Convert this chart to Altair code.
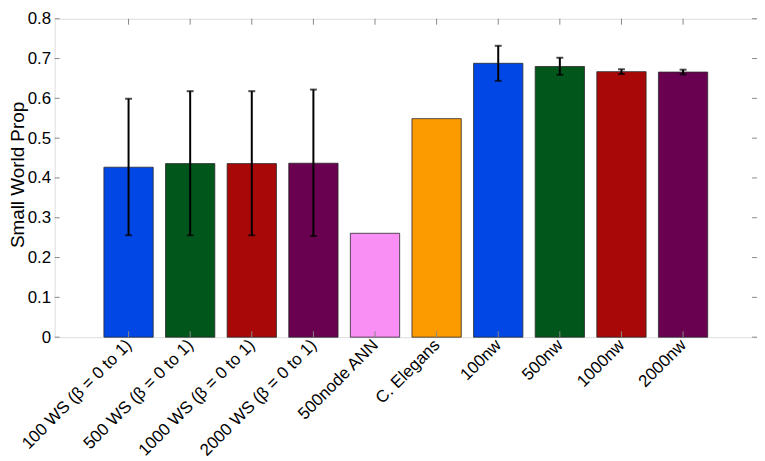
import altair as alt
import pandas as pd

categories = ["100 WS (β = 0 to 1)", "500 WS (β = 0 to 1)", "1000 WS (β = 0 to 1)",
              "2000 WS (β = 0 to 1)", "500node ANN", "C. Elegans",
              "100nw", "500nw", "1000nw", "2000nw"]
values = [0.427, 0.436, 0.436, 0.437, 0.261, 0.549, 0.688, 0.680, 0.667, 0.666]
err_low = [0.256, 0.256, 0.256, 0.254, None, None, 0.644, 0.659, 0.661, 0.660]
err_high = [0.599, 0.618, 0.618, 0.622, None, None, 0.732, 0.702, 0.673, 0.672]
colors = ["#0047E6", "#00561B", "#A80808", "#690050", "#F98FF5", "#FB9B00",
          "#0047E6", "#00561B", "#A80808", "#690050"]
y_ticks = [0, 0.1, 0.2, 0.3, 0.4, 0.5, 0.6, 0.7, 0.8]

positions = list(range(1, len(categories) + 1))
df = pd.DataFrame({"cat": categories, "pos": positions, "value": values,
                   "lo": err_low, "hi": err_high})
ytick_df = pd.DataFrame({"t": y_ticks})
xtick_df = pd.DataFrame({"pos": positions})

W, H = 708, 321
FONT = "Liberation Sans"

label_expr = "[" + ",".join("'" + c + "'" for c in categories) + "][datum.value - 1]"

xscale = alt.Scale(domain=[-0.2, 11.2], nice=False, zero=False)
yscale = alt.Scale(domain=[0, 0.8], nice=False)

base = alt.Chart(df)

bars = base.transform_calculate(
    x0="datum.pos - 0.4", x1="datum.pos + 0.4"
).mark_bar(stroke="#2a2a2a", strokeWidth=0.8).encode(
    x=alt.X("x0:Q", scale=xscale,
            axis=alt.Axis(values=positions, labelExpr=label_expr, labelAngle=-45,
                          labelAlign="right", labelBaseline="middle", labelPadding=5,
                          labelFontSize=17, labelFont=FONT, labelColor="#000",
                          labelOverlap=False, labelBound=False,
                          ticks=False, domain=False, grid=False, title=None)),
    x2="x1:Q",
    y=alt.Y("value:Q", scale=yscale,
            axis=alt.Axis(values=y_ticks,
                          labelExpr="datum.value == 0 ? '0' : format(datum.value, '.1f')",
                          labelFontSize=17, labelFont=FONT,
                          labelColor="#000", labelPadding=4, ticks=False, domain=False,
                          grid=False, title="Small World Prop", titleFontSize=19,
                          titleFont=FONT, titleFontWeight="normal", titleColor="#000",
                          titleX=-27, titleY=157, titleAngle=-90, titleAlign="center",
                          titleBaseline="bottom")),
    y2=alt.datum(0),
    fill=alt.Fill("cat:N", scale=alt.Scale(domain=categories, range=colors), legend=None),
)

err = base.transform_filter("datum.lo != null").mark_rule(color="#000", strokeWidth=2).encode(
    x=alt.X("pos:Q", scale=xscale), y=alt.Y("lo:Q", scale=yscale), y2="hi:Q")
cap_lo = base.transform_filter("datum.lo != null").mark_tick(
    color="#000", orient="horizontal", size=7, thickness=2).encode(
    x=alt.X("pos:Q", scale=xscale), y=alt.Y("lo:Q", scale=yscale))
cap_hi = base.transform_filter("datum.lo != null").mark_tick(
    color="#000", orient="horizontal", size=7, thickness=2).encode(
    x=alt.X("pos:Q", scale=xscale), y=alt.Y("hi:Q", scale=yscale))

tick_color = "#888"
ytl = alt.Chart(ytick_df).mark_rule(color=tick_color, strokeWidth=1).encode(
    y=alt.Y("t:Q", scale=yscale), x=alt.value(0), x2=alt.value(5))
ytr = alt.Chart(ytick_df).mark_rule(color=tick_color, strokeWidth=1).encode(
    y=alt.Y("t:Q", scale=yscale), x=alt.value(W - 5), x2=alt.value(W))
xtt = alt.Chart(xtick_df).mark_rule(color=tick_color, strokeWidth=1).encode(
    x=alt.X("pos:Q", scale=xscale), y=alt.value(0), y2=alt.value(6))
xtb = alt.Chart(xtick_df).mark_rule(color=tick_color, strokeWidth=1).encode(
    x=alt.X("pos:Q", scale=xscale), y=alt.value(H - 6), y2=alt.value(H))

chart = alt.layer(bars, err, cap_lo, cap_hi, ytl, ytr, xtt, xtb).properties(
    width=W, height=H,
    autosize=alt.AutoSizeParams(type="none"),
    padding={"left": 47, "top": 9, "right": 0, "bottom": 123},
).configure_view(stroke="#888", strokeWidth=1).configure(background="white")

chart.save("out.html", embed_options={"renderer": "svg", "actions": False})
